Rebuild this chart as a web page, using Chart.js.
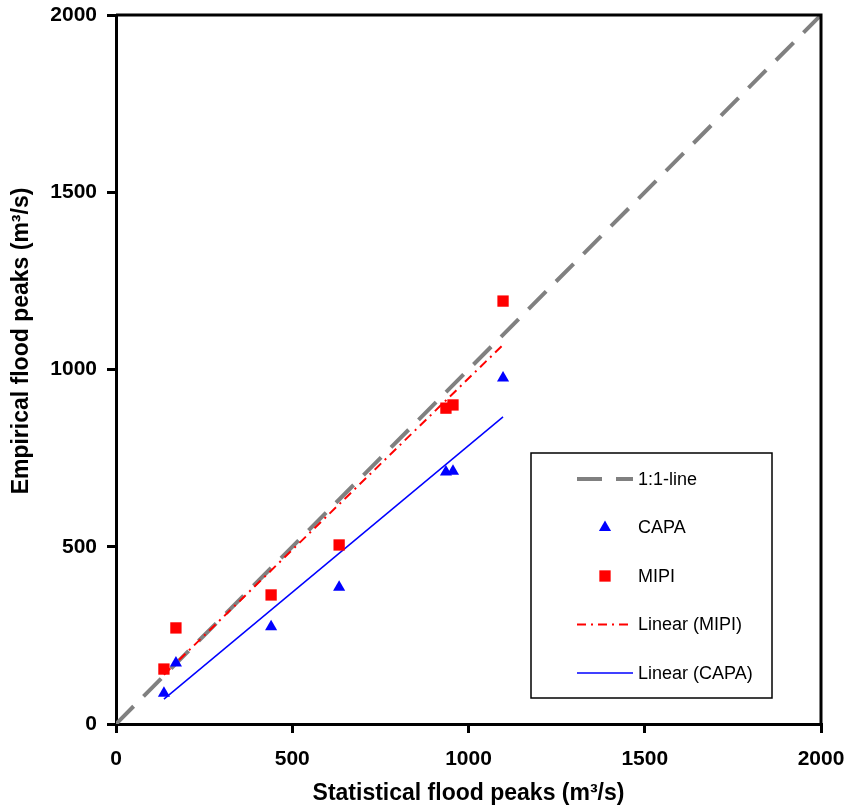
<!DOCTYPE html>
<html>
<head>
<meta charset="utf-8">
<title>Flood peaks</title>
<script src="https://cdn.jsdelivr.net/npm/chart.js@4.4.1/dist/chart.umd.min.js"></script>
<style>
  body { margin: 0; background: #fff; }
  #grafico { display: block; }
</style>
</head>
<body>
<canvas id="grafico" width="851" height="812"></canvas>
<script>
// statistical peaks (x) are the same for both methods
const statisticalPeaks = [136, 170, 440, 633, 936, 956, 1098];
const capaPeaks = [87, 172, 274, 386, 711, 713, 976];
const mipiPeaks = [155, 271, 364, 505, 891, 900, 1193];
const oneToOne = [0, 2000];
const axisTicks = [0, 500, 1000, 1500, 2000];

const fuente = "'Liberation Sans', Arial, Helvetica, sans-serif";

function puntos(xs, ys) {
    return xs.map((x, i) => ({ x: x, y: ys[i] }));
}

// least squares fit, same as the excel linear trendline
function lineal(xs, ys) {
    const n = xs.length;
    const mx = xs.reduce((a, b) => a + b, 0) / n;
    const my = ys.reduce((a, b) => a + b, 0) / n;
    let sxy = 0, sxx = 0;
    xs.forEach((x, i) => {
        sxy += (x - mx) * (ys[i] - my);
        sxx += (x - mx) * (x - mx);
    });
    const m = sxy / sxx;
    const b = my - m * mx;
    const xMin = Math.min(...xs), xMax = Math.max(...xs);
    return [{ x: xMin, y: m * xMin + b }, { x: xMax, y: m * xMax + b }];
}

// box round the plot, like the excel frame
const marco = {
    id: 'marco',
    afterDraw(chart) {
        const ctx = chart.ctx, ca = chart.chartArea;
        ctx.save();
        ctx.strokeStyle = '#000';
        ctx.lineWidth = 3;
        ctx.beginPath();
        ctx.moveTo(ca.left, ca.top);
        ctx.lineTo(ca.right, ca.top);
        ctx.lineTo(ca.right, ca.bottom);
        ctx.stroke();

        // y title (excel puts it a bit above the middle)
        ctx.fillStyle = '#000';
        ctx.font = 'bold 23px ' + fuente;
        ctx.textAlign = 'center';
        ctx.textBaseline = 'middle';
        ctx.translate(22, 341);
        ctx.rotate(-Math.PI / 2);
        ctx.fillText('Empirical flood peaks (m³/s)', 0, 0);
        ctx.restore();
    }
};

// legend box inside the plot area
const leyenda = {
    id: 'leyenda',
    afterDraw(chart) {
        const ctx = chart.ctx, ca = chart.chartArea;
        const x0 = ca.left + 415, y0 = ca.top + 438, w = 241, h = 245;
        ctx.save();
        ctx.fillStyle = '#fff';
        ctx.fillRect(x0, y0, w, h);
        ctx.strokeStyle = '#000';
        ctx.lineWidth = 1.5;
        ctx.strokeRect(x0, y0, w, h);

        chart.data.datasets.forEach((ds, i) => {
            const y = y0 + 26 + i * 48.5;
            if (ds.showLine) {
                ctx.strokeStyle = ds.borderColor;
                ctx.lineWidth = ds.borderWidth;
                ctx.setLineDash(ds.borderDash || []);
                ctx.beginPath();
                ctx.moveTo(x0 + 46, y);
                ctx.lineTo(x0 + 102, y);
                ctx.stroke();
                ctx.setLineDash([]);
            } else {
                ctx.fillStyle = ds.backgroundColor;
                Chart.helpers.drawPoint(ctx, {
                    pointStyle: ds.pointStyle,
                    radius: ds.pointRadius,
                    borderWidth: 0,
                    rotation: 0
                }, x0 + 74, y);
            }
            ctx.fillStyle = '#000';
            ctx.font = '18px ' + fuente;
            ctx.textAlign = 'left';
            ctx.textBaseline = 'middle';
            ctx.fillText(ds.label, x0 + 107, y + 1);
        });
        ctx.restore();
    }
};

function ejeLineal(titulo) {
    return {
        type: 'linear',
        min: 0,
        max: 2000,
        afterBuildTicks: scale => {
            scale.ticks = axisTicks.map(v => ({ value: v }));
        },
        ticks: {
            color: '#000',
            font: { family: fuente, size: 21, weight: 'bold' },
            callback: value => String(value)
        },
        grid: {
            drawOnChartArea: false,
            drawTicks: true,
            tickLength: 9,
            color: '#000',
            lineWidth: 3
        },
        border: { display: true, color: '#000', width: 3 },
        title: {
            display: titulo !== null,
            text: titulo || '',
            color: '#000',
            font: { family: fuente, size: 23, weight: 'bold' },
            padding: { top: 0, bottom: 5 }
        }
    };
}

// only the layout padding decides where the plot area sits
function sinRelleno(scale) {
    scale.paddingTop = 0;
    scale.paddingBottom = 0;
    scale.paddingLeft = 0;
    scale.paddingRight = 0;
}

const ejeX = ejeLineal('Statistical flood peaks (m³/s)');
ejeX.ticks.padding = 14;
ejeX.afterFit = scale => { scale.height = 88; sinRelleno(scale); };

const ejeY = ejeLineal(null);
ejeY.ticks.padding = 10;
ejeY.afterFit = scale => { scale.width = 116; sinRelleno(scale); };

new Chart(document.getElementById('grafico'), {
    type: 'scatter',
    data: {
        datasets: [
            {
                label: '1:1-line',
                data: puntos(oneToOne, oneToOne),
                showLine: true,
                borderColor: '#808080',
                borderWidth: 4,
                borderDash: [25, 14],
                pointRadius: 0,
                order: 5
            },
            {
                label: 'CAPA',
                data: puntos(statisticalPeaks, capaPeaks),
                pointStyle: 'triangle',
                pointRadius: 7,
                pointBorderWidth: 0,
                backgroundColor: '#0000FF',
                borderColor: '#0000FF',
                order: 1
            },
            {
                label: 'MIPI',
                data: puntos(statisticalPeaks, mipiPeaks),
                pointStyle: 'rect',
                pointRadius: 8,
                pointBorderWidth: 0,
                backgroundColor: '#FF0000',
                borderColor: '#FF0000',
                order: 2
            },
            {
                label: 'Linear (MIPI)',
                data: lineal(statisticalPeaks, mipiPeaks),
                showLine: true,
                borderColor: '#FF0000',
                borderWidth: 2,
                borderDash: [9, 5, 2, 5],
                pointRadius: 0,
                order: 3
            },
            {
                label: 'Linear (CAPA)',
                data: lineal(statisticalPeaks, capaPeaks),
                showLine: true,
                borderColor: '#0000FF',
                borderWidth: 1.5,
                pointRadius: 0,
                order: 4
            }
        ]
    },
    options: {
        responsive: false,
        animation: false,
        layout: { padding: { top: 15, right: 30, left: 0, bottom: 0 } },
        plugins: {
            legend: { display: false },
            tooltip: { enabled: false }
        },
        scales: { x: ejeX, y: ejeY }
    },
    plugins: [marco, leyenda]
});
</script>
</body>
</html>
